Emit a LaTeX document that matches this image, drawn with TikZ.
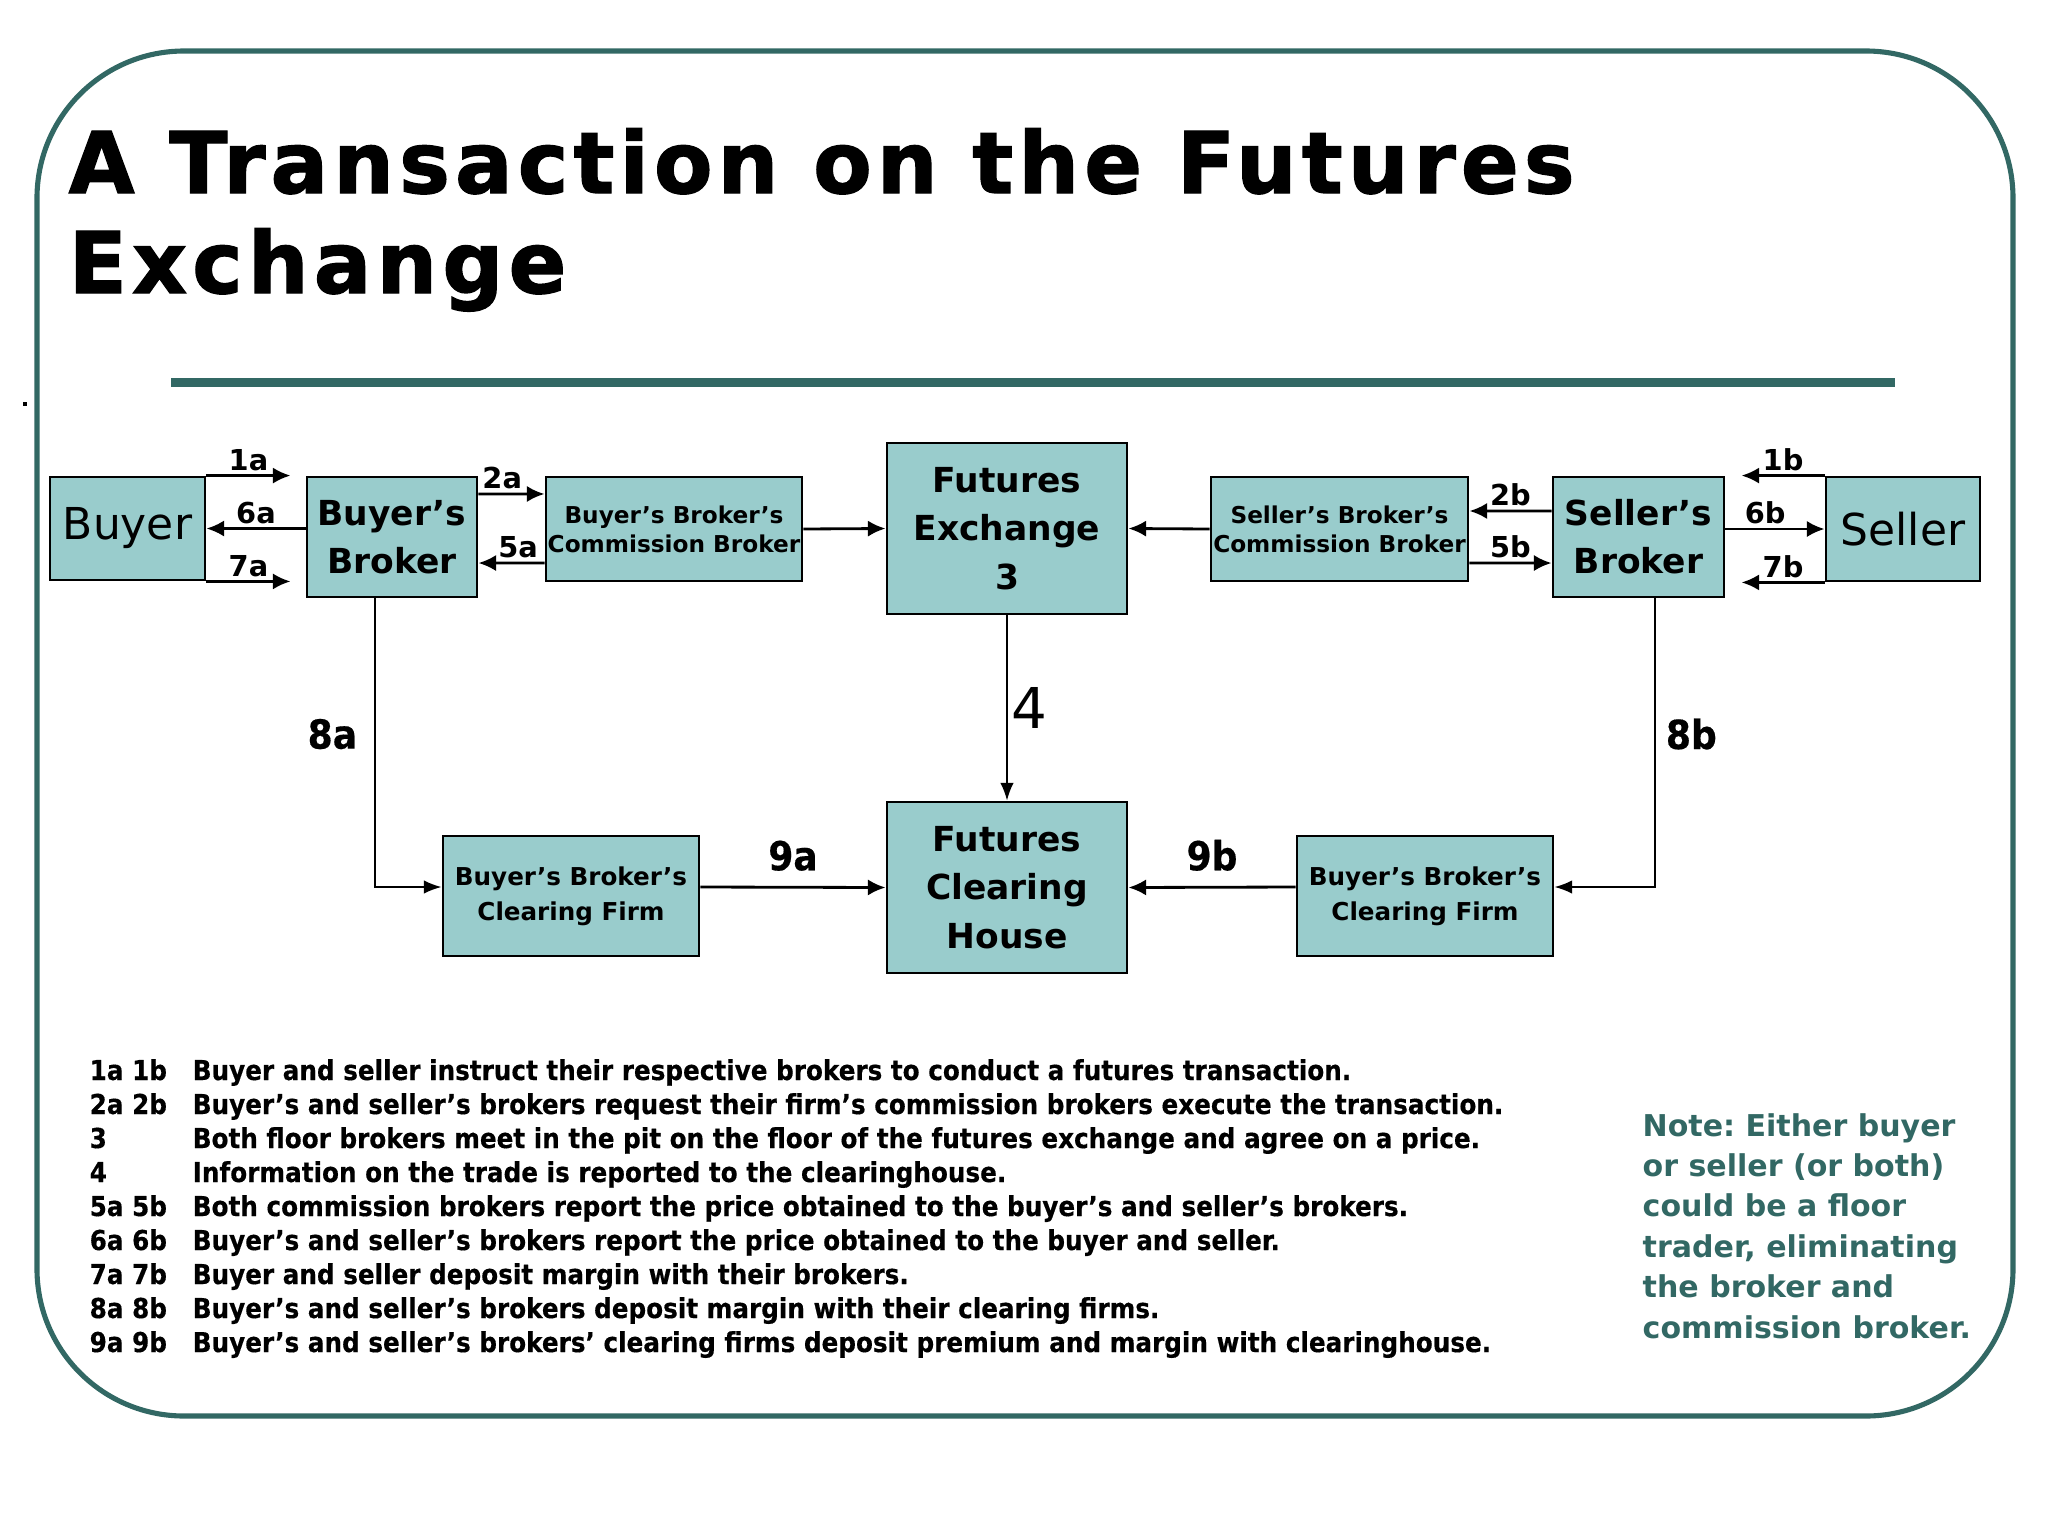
\documentclass[tikz,border=0pt]{standalone}
\usepackage{fontspec}
\usetikzlibrary{arrows.meta}
\setmainfont{DejaVu Sans}
\newfontfamily\narrowfont[FakeStretch=0.9, FakeBold=0.4]{DejaVu Sans}
\newfontfamily\titlefont[LetterSpace=6.2, FakeBold=1.6]{DejaVu Sans}
\definecolor{slideteal}{RGB}{50,104,100}
\definecolor{boxfill}{HTML}{99CCCC}
\frenchspacing
\tikzset{
  box/.style={draw, fill=boxfill, line width=0.8pt, inner sep=0pt, align=center},
  partybox/.style={box, font=\fontsize{12.5}{14}\selectfont},
  bigbox/.style={box, font=\bfseries\fontsize{9.8}{13.7}\selectfont},
  smallbox/.style={box, font=\bfseries\fontsize{6.6}{8.3}\selectfont},
  firmbox/.style={box, font=\bfseries\fontsize{7}{10}\selectfont},
  arr/.style={-{Latex[length=5pt, width=4.6pt]}, line width=0.8pt},
  thinarr/.style={-{Latex[length=5pt, width=3.8pt]}, line width=0.5pt},
  lbl/.style={font=\bfseries\fontsize{8.2}{9}\selectfont, inner sep=1pt},
  biglbl/.style={font=\narrowfont\bfseries\fontsize{11.4}{12}\selectfont, inner sep=0pt},
}
\begin{document}
\begin{tikzpicture}[x=0.01cm, y=-0.01cm]
    \useasboundingbox (0,0) rectangle (2048,1536);
    % slide frame and title
    \draw [slideteal, line width=1.45pt, rounded corners=1.47cm] (37,51) rectangle (2013,1416);
    \fill (23,402) rectangle (27,406);
    \node [anchor=base west, inner sep=0pt, font=\titlefont\bfseries\fontsize{24.2}{28}\selectfont] (title1) at (68,193) {A Transaction on the Futures};
    \node [anchor=base west, inner sep=0pt, font=\titlefont\bfseries\fontsize{24.2}{28}\selectfont] (title2) at (68,293) {Exchange};
    \draw [slideteal, line width=2.6pt] (171,382.5)--(1895,382.5);

    % top row
    \node [partybox, minimum width=1.55cm, minimum height=1.03cm] (buyer) at (127.5,528.5) {Buyer};
    \node [bigbox, minimum width=1.70cm, minimum height=1.20cm] (bbroker) at (392,537) {Buyer’s\\Broker};
    \node [smallbox, minimum width=2.56cm, minimum height=1.04cm] (bcomm) at (674,529) {Buyer’s Broker’s\\Commission Broker};
    \node [bigbox, minimum width=2.40cm, minimum height=1.71cm] (fex) at (1007,528.5) {Futures\\Exchange\\3};
    \node [smallbox, minimum width=2.57cm, minimum height=1.04cm] (scomm) at (1339.5,529) {Seller’s Broker’s\\Commission Broker};
    \node [bigbox, minimum width=1.71cm, minimum height=1.20cm] (sbroker) at (1638.5,537) {Seller’s\\Broker};
    \node [partybox, minimum width=1.54cm, minimum height=1.04cm] (seller) at (1903,529) {Seller};
    % bottom row
    \node [firmbox, minimum width=2.56cm, minimum height=1.20cm] (bclear) at (571,896) {Buyer’s Broker’s\\Clearing Firm};
    \node [bigbox, minimum width=2.40cm, minimum height=1.71cm] (fch) at (1007,887.5) {Futures\\Clearing\\House};
    \node [firmbox, minimum width=2.56cm, minimum height=1.20cm] (sclear) at (1425,896) {Buyer’s Broker’s\\Clearing Firm};

    \coordinate (t1a) at ([xshift=8.4mm]buyer.north east);
    \coordinate (t7a) at ([xshift=8.4mm]buyer.south east);
    \coordinate (t1b) at ([xshift=-8.3mm]seller.north west);
    \coordinate (t7b) at ([xshift=-8.3mm]seller.south west);

    % buyer side
    \draw [arr] (buyer.north east)--(t1a) node[lbl, above, midway] {1a};
    \draw [arr] (bbroker.west |- buyer.east)--(buyer.east) node[lbl, above, midway] {6a};
    \draw [arr] (buyer.south east)--(t7a) node[lbl, above, midway] {7a};
    \draw [arr] ([yshift=4.3mm]bbroker.east)--([yshift=3.5mm]bcomm.west) node[lbl, above, pos=0.36] {2a};
    \draw [arr] ([yshift=-3.4mm]bcomm.west)--([yshift=-2.6mm]bbroker.east) node[lbl, above, pos=0.4] {5a};
    \draw [arr] (bcomm.east)--(fex.west);
    % seller side
    \draw [arr] (scomm.west)--(fex.east);
    \draw [arr] ([yshift=2.6mm]sbroker.west)--([yshift=1.8mm]scomm.east) node[lbl, above, midway] {2b};
    \draw [arr] ([yshift=-3.4mm]scomm.east)--([yshift=-2.6mm]sbroker.west) node[lbl, above, midway] {5b};
    \draw [arr] (seller.north west)--(t1b) node[lbl, above, midway] {1b};
    \draw [arr] (sbroker.east |- seller.west)--(seller.west) node[lbl, above, pos=0.4] {6b};
    \draw [arr] (seller.south west)--(t7b) node[lbl, above, midway] {7b};
    % clearing
    \draw [thinarr] (fex)--(fch) node[right, midway, inner sep=1pt, font=\fontsize{16}{18}\selectfont] {4};
    \draw [thinarr] ([xshift=-1.7mm]bbroker.south) |- ([yshift=0.9mm]bclear.west) node[biglbl, pos=0.235, left=1.7mm] {8a};
    \draw [thinarr] ([xshift=1.65mm]sbroker.south) |- ([yshift=0.9mm]sclear.east) node[biglbl, pos=0.235, right=1.0mm] {8b};
    \draw [arr] ([yshift=0.9mm]bclear.east)--(fch.west) node[biglbl, above=1.5mm, midway] {9a};
    \draw [arr] ([yshift=0.9mm]sclear.west)--(fch.east) node[biglbl, above=1.5mm, midway] {9b};

    % legend
    \node [anchor=base west, inner sep=0pt, font=\narrowfont\bfseries\fontsize{7.8}{9.67}\selectfont] (legend) at (89,1080) {%
      \begin{tabular}[t]{@{}p{1.03cm}@{}l@{}}
      1a 1b & Buyer and seller instruct their respective brokers to conduct a futures transaction.\\
      2a 2b & Buyer’s and seller’s brokers request their firm’s commission brokers execute the transaction.\\
      3     & Both floor brokers meet in the pit on the floor of the futures exchange and agree on a price.\\
      4     & Information on the trade is reported to the clearinghouse.\\
      5a 5b & Both commission brokers report the price obtained to the buyer’s and seller’s brokers.\\
      6a 6b & Buyer’s and seller’s brokers report the price obtained to the buyer and seller.\\
      7a 7b & Buyer and seller deposit margin with their brokers.\\
      8a 8b & Buyer’s and seller’s brokers deposit margin with their clearing firms.\\
      9a 9b & Buyer’s and seller’s brokers’ clearing firms deposit premium and margin with clearinghouse.
      \end{tabular}};
    \node [anchor=base west, inner sep=0pt, text=slideteal, font=\bfseries\fontsize{8.54}{11.5}\selectfont] (note) at (1642,1136) {%
      \begin{tabular}[t]{@{}l@{}}
      Note: Either buyer\\ or seller (or both)\\ could be a floor\\ trader, eliminating\\ the broker and\\ commission broker.
      \end{tabular}};
\end{tikzpicture}
\end{document}
